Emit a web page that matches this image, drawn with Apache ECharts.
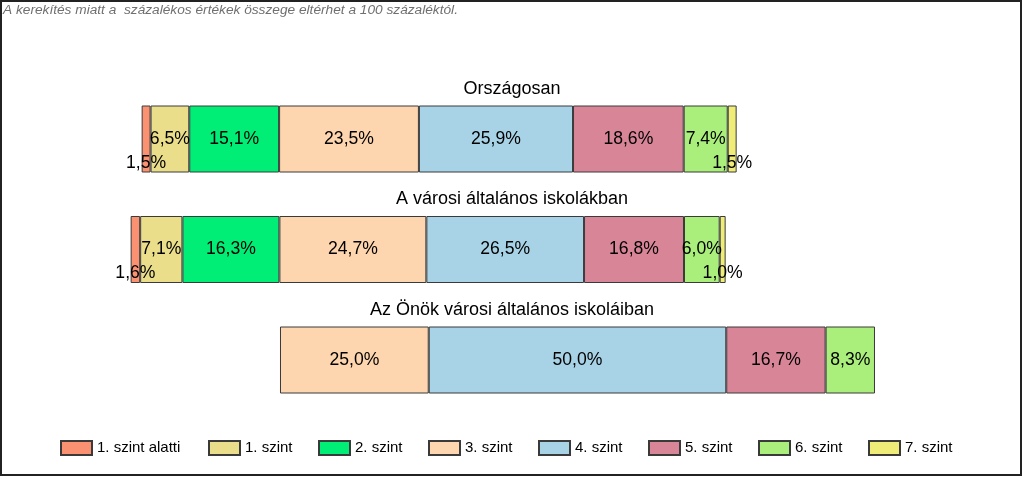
<!DOCTYPE html>
<html>
<head>
<meta charset="utf-8">
<script src="https://cdn.jsdelivr.net/npm/echarts@6/dist/echarts.min.js"></script>
<style>
  html, body { margin: 0; padding: 0; background: #fff; }
  #chart { width: 1024px; height: 478px; }
</style>
</head>
<body>
<div id="chart"></div>
<script>
// categories (one bar each)
const groups = ['Országosan', 'A városi általános iskolákban', 'Az Önök városi általános iskoláiban'];
const levels = ['1. szint alatti', '1. szint', '2. szint', '3. szint', '4. szint', '5. szint', '6. szint', '7. szint'];

// percentages per level
const orszagos = [1.5, 6.5, 15.1, 23.5, 25.9, 18.6, 7.4, 1.5];
const varosi = [1.6, 7.1, 16.3, 24.7, 26.5, 16.8, 6.0, 1.0];
const onok = [null, null, null, 25.0, 50.0, 16.7, 8.3, null];

// empty space in front of each bar (same % units)
const leftGap = [7.0, 5.15, 30.25];

const colors = ['#FA9272', '#EADE8A', '#00EE76', '#FDD5AE', '#A8D3E6', '#D98598', '#AAEE7C', '#F0EC78'];
const font = 'Arial, "Liberation Sans", sans-serif';

const chart = echarts.init(document.getElementById('chart'));

const fmt = v => (v == null ? '' : v.toFixed(1).replace('.', ',') + '%');

const series = [{
  name: 'gap',
  type: 'bar',
  stack: 'total',
  barWidth: 67,
  silent: true,
  itemStyle: { color: 'transparent' },
  data: leftGap
}];

levels.forEach((name, i) => {
  const small = i === 0 || i === levels.length - 1;
  series.push({
    name: name,
    type: 'bar',
    stack: 'total',
    barWidth: 67,
    data: [orszagos[i], varosi[i], onok[i]],
    itemStyle: { color: colors[i], borderColor: '#3a3a3a', borderWidth: 1 },
    label: {
      show: true,
      position: 'inside',
      offset: small ? [0, 24] : [0, 0],
      color: '#000',
      fontSize: 17.6,
      fontFamily: font,
      formatter: p => fmt(p.value)
    }
  });
});

const legends = levels.map((name, i) => ({
  data: [name],
  left: 60 + (i === 0 ? 0 : 148 + (i - 1) * 110),
  top: 440,
  padding: 0,
  icon: 'rect',
  itemWidth: 31,
  itemHeight: 14,
  selectedMode: false,
  textStyle: { fontSize: 15, color: '#000', fontFamily: font }
}));

const titles = groups.map((g, i) => ({
  text: g,
  left: 'center',
  top: 80 + i * 110.5,
  padding: 0,
  textStyle: { fontSize: 18, fontWeight: 'normal', color: '#000', fontFamily: font }
}));

chart.setOption({
  animation: false,
  title: titles,
  legend: legends,
  grid: { left: 100, width: 140 * 5.95, top: 83.75, height: 331.5 },
  xAxis: { type: 'value', min: 0, max: 140, show: false },
  yAxis: { type: 'category', data: groups, inverse: true, show: false },
  series: series,
  graphic: [
    {
      type: 'text',
      left: 3,
      top: 3,
      style: {
        text: 'A kerekítés miatt a  százalékos értékek összege eltérhet a 100 százaléktól.',
        font: 'italic 13.7px Arial, "Liberation Sans", sans-serif',
        fill: '#707070'
      }
    },
    {
      type: 'rect',
      shape: { x: 1, y: 1, width: 1020, height: 474 },
      style: { fill: 'none', stroke: '#222', lineWidth: 2 },
      silent: true
    }
  ]
});
</script>
</body>
</html>
